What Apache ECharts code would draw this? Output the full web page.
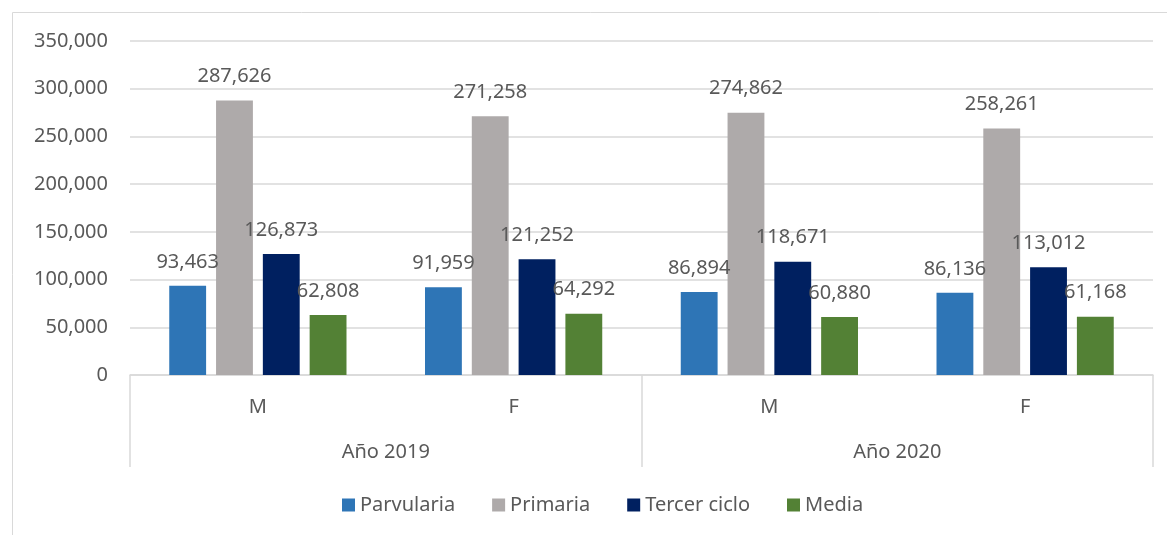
<!DOCTYPE html>
<html>
<head>
<meta charset="utf-8">
<title>Matricula por nivel</title>
<script src="https://cdn.jsdelivr.net/npm/echarts@6/dist/echarts.min.js"></script>
</head>
<body style="margin:0;background:#fff;">
<div id="main" style="width:1167px;height:535px;"></div>
<script type="text/javascript">
    var sexos = ['M', 'F', 'M', 'F'];
    var anios = ['Año 2019', 'Año 2020'];
    var parvularia = [93463, 91959, 86894, 86136];
    var primaria = [287626, 271258, 274862, 258261];
    var tercerCiclo = [126873, 121252, 118671, 113012];
    var media = [62808, 64292, 60880, 61168];

    var fuente = '"Noto Sans", sans-serif';
    var gris = '#595959';

    function serie(name, data, color) {
        return {
            name: name,
            type: 'bar',
            data: data,
            barGap: '27%',
            barCategoryGap: '30.7%',
            itemStyle: { color: color },
            label: {
                show: true,
                position: 'top',
                distance: 14,
                color: gris,
                fontFamily: fuente,
                fontSize: 20,
                formatter: function (p) { return p.value.toLocaleString('en-US'); }
            }
        };
    }

    var myChart = echarts.init(document.getElementById('main'));
    myChart.setOption({
        animation: false,
        graphic: [{
            type: 'rect',
            shape: { x: 12.5, y: 12.5, width: 1170, height: 540 },
            style: { fill: null, stroke: '#d9d9d9', lineWidth: 1 },
            silent: true
        }],
        grid: { left: 130, right: 14, top: 41, bottom: 160 },
        legend: {
            bottom: 15,
            left: 337,
            itemWidth: 13,
            itemHeight: 13,
            itemGap: 37,
            icon: 'rect',
            textStyle: { color: gris, fontFamily: fuente, fontSize: 20 },
            data: ['Parvularia', 'Primaria', 'Tercer ciclo', 'Media']
        },
        xAxis: [{
            type: 'category',
            data: sexos,
            axisLine: { lineStyle: { color: '#d9d9d9', width: 1.5 } },
            axisTick: { show: false },
            axisLabel: { color: gris, fontFamily: fuente, fontSize: 20, margin: 22 }
        }, {
            type: 'category',
            data: anios,
            position: 'bottom',
            axisLine: { show: false },
            axisTick: { show: true, length: 92, interval: 0, lineStyle: { color: '#d9d9d9', width: 1.5 } },
            axisLabel: { color: gris, fontFamily: fuente, fontSize: 20, margin: 67 }
        }],
        yAxis: {
            type: 'value',
            min: 0,
            max: 350000,
            interval: 50000,
            axisLine: { show: false },
            axisTick: { show: false },
            splitLine: { lineStyle: { color: '#d9d9d9', width: 1.5 } },
            axisLabel: {
                color: gris,
                fontFamily: fuente,
                fontSize: 20,
                margin: 22,
                formatter: function (v) { return v.toLocaleString('en-US'); }
            }
        },
        series: [
            serie('Parvularia', parvularia, '#2E75B6'),
            serie('Primaria', primaria, '#AEAAAA'),
            serie('Tercer ciclo', tercerCiclo, '#002060'),
            serie('Media', media, '#538135')
        ]
    });
</script>
</body>
</html>
